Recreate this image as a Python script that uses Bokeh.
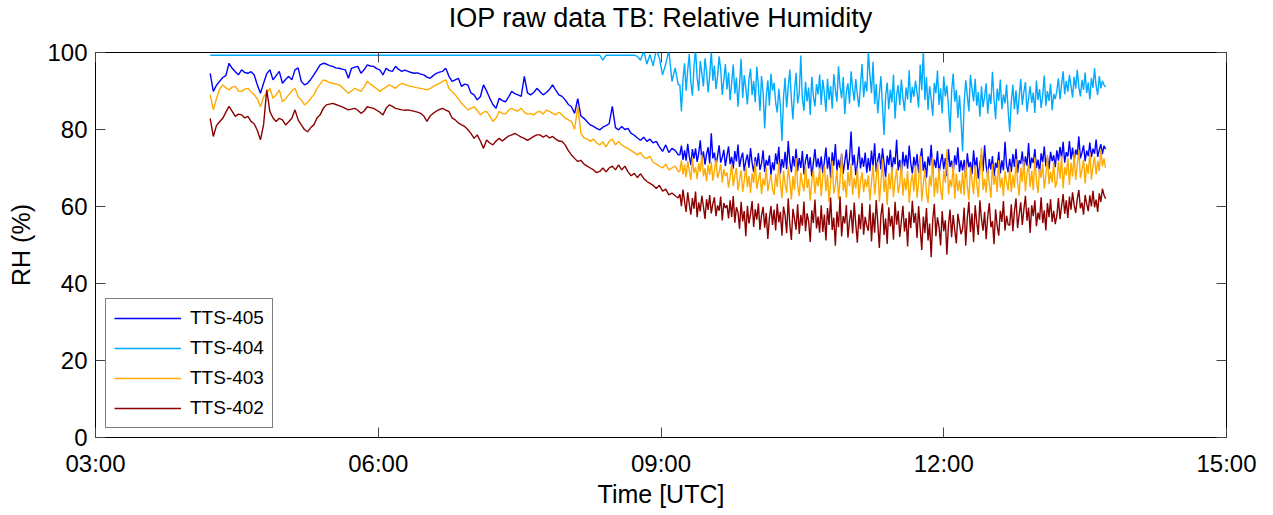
from bokeh.plotting import figure
from bokeh.models import (Range1d, LinearAxis, FixedTicker, Legend, LegendItem,
                          CustomLabelingPolicy)
from bokeh.embed import file_html
from bokeh.resources import INLINE

# ---------------- data ----------------
TITLE = "IOP raw data TB: Relative Humidity"
X_LABEL = "Time [UTC]"
Y_LABEL = "RH (%)"
x_ticks = [3, 6, 9, 12, 15]
x_tick_labels = ["03:00", "06:00", "09:00", "12:00", "15:00"]
y_ticks = [0, 20, 40, 60, 80, 100]

# early part: samples every 2 minutes from 04:13 UTC (150 samples, to 09:11)
early_start_hour = 4 + 13 / 60
early_step_minutes = 2
# late part: samples every minute from 09:12 UTC (272 samples, to 13:43)
late_start_hour = 9 + 12 / 60
late_step_minutes = 1

series_names = ["TTS-405", "TTS-404", "TTS-403", "TTS-402"]
series_colors = ["#0000FF", "#00AAFF", "#FFAA00", "#8B0000"]

rh_405_early = [
    94.6, 89.9, 91.5, 92.5, 93.5, 94.0, 97.2, 95.9, 95.0, 94.2, 95.5, 94.8, 94.6, 95.0, 94.2,
    91.6, 89.4, 92.0, 94.5, 95.5, 92.9, 94.0, 95.1, 92.0, 93.0, 93.8, 92.9, 95.5, 96.0, 92.5,
    91.6, 92.0, 93.0, 94.2, 95.5, 96.8, 97.2, 97.0, 96.6, 96.4, 96.0, 95.9, 95.7, 95.5, 93.3,
    95.9, 96.2, 96.4, 94.6, 95.5, 96.8, 96.5, 96.4, 95.8, 95.5, 94.2, 95.9, 95.3, 95.1, 96.4,
    95.6, 95.1, 95.4, 95.1, 94.8, 94.6, 94.7, 94.4, 94.2, 93.6, 93.3, 94.0, 94.6, 94.9, 95.1,
    95.9, 93.8, 92.5, 92.9, 93.3, 91.2, 91.8, 91.6, 89.5, 89.0, 87.7, 88.5, 91.6, 90.0, 88.1,
    86.5, 85.5, 88.1, 87.5, 87.2, 88.5, 89.9, 89.3, 89.0, 88.6, 93.8, 89.5, 89.0, 89.6, 90.7,
    89.8, 89.0, 89.6, 90.4, 91.6, 90.2, 89.0, 88.6, 87.7, 86.5, 85.9, 84.2, 88.0, 83.5, 82.9,
    82.0, 81.2, 80.8, 80.3, 79.9, 80.6, 81.0, 81.5, 86.0, 80.5, 79.9, 80.8, 80.0, 80.3, 79.0,
    78.5, 77.8, 77.2, 78.0, 76.9, 77.5, 76.5, 76.9, 75.5, 74.3, 76.0, 74.0, 75.1, 74.6, 73.4,
]
rh_405_late = [
    73.4, 75.8, 72.1, 74.6, 71.9, 76.3, 73.0, 70.8, 74.9, 72.4, 75.1, 71.6, 73.8, 77.2, 72.0,
    74.3, 70.9, 73.6, 75.4, 71.2, 79.0, 72.5, 74.0, 70.6, 73.1, 75.9, 71.4, 72.8, 74.7, 70.5,
    73.2, 75.6, 71.0, 72.9, 69.8, 74.4, 71.7, 76.1, 70.3, 72.6, 74.0, 69.2, 71.9, 73.5, 70.1,
    75.2, 71.3, 68.9, 72.8, 70.4, 73.9, 69.5, 71.2, 74.6, 69.0, 72.1, 70.6, 73.3, 68.2, 71.5,
    69.4, 73.8, 71.0, 75.5, 68.6, 72.3, 70.1, 74.2, 69.7, 77.0, 71.8, 68.9, 73.1, 70.4, 75.0,
    69.2, 72.6, 70.0, 74.4, 68.3, 71.9, 73.6, 69.9, 72.8, 67.8, 71.4, 74.9, 70.2, 72.5, 69.6,
    73.0, 68.7, 71.6, 75.3, 69.8, 72.9, 67.4, 74.1, 70.6, 76.2, 69.3, 72.2, 70.0, 73.7, 68.5,
    71.8, 74.8, 69.5, 72.4, 79.5, 70.7, 73.4, 68.1, 71.1, 75.6, 69.9, 72.7, 70.3, 74.0, 68.8,
    72.6, 69.2, 74.5, 70.4, 76.4, 68.9, 72.0, 73.9, 69.6, 75.1, 71.3, 67.7, 73.2, 70.8, 74.7,
    69.0, 72.8, 71.0, 77.3, 69.4, 72.1, 68.3, 74.2, 70.5, 73.4, 69.8, 75.8, 71.2, 68.6, 72.9,
    70.1, 73.6, 68.8, 72.4, 75.2, 69.3, 71.7, 67.5, 73.0, 70.6, 76.0, 69.1, 72.2, 70.0, 74.4,
    68.4, 71.5, 73.7, 69.7, 72.6, 67.9, 74.9, 70.3, 71.9, 68.7, 73.3, 70.8, 75.4, 69.0, 72.0,
    69.3, 72.1, 67.6, 73.8, 70.2, 71.6, 68.4, 74.6, 69.8, 72.8, 67.2, 71.0, 73.5, 69.1, 75.9,
    70.4, 68.1, 72.3, 69.6, 73.1, 67.9, 71.4, 70.0, 74.2, 68.6, 72.0, 69.4, 76.8, 70.7, 68.9,
    72.4, 69.0, 73.6, 70.3, 75.0, 68.7, 72.0, 71.1, 74.3, 69.5, 73.0, 70.6, 76.5, 69.9, 72.7,
    71.3, 74.9, 70.0, 72.2, 68.9, 73.8, 71.5, 75.6, 70.4, 72.9, 69.7, 74.2, 71.8, 73.3, 70.2,
    74.6, 71.9, 75.5, 72.6, 76.8, 71.4, 74.1, 73.0, 77.0, 72.2, 75.3, 71.7, 74.8, 73.4, 78.2,
    72.5, 74.0, 75.9, 71.8, 74.5, 73.1, 76.6, 72.8, 75.0, 73.7, 77.4, 72.9, 74.7, 76.2, 73.6,
    75.8, 74.9,
]

rh_404_early = [
    99.3, 99.3, 99.3, 99.3, 99.3, 99.3, 99.3, 99.3, 99.3, 99.3, 99.3, 99.3, 99.3, 99.3, 99.3,
    99.3, 99.3, 99.3, 99.3, 99.3, 99.3, 99.3, 99.3, 99.3, 99.3, 99.3, 99.3, 99.3, 99.3, 99.3,
    99.3, 99.3, 99.3, 99.3, 99.3, 99.3, 99.3, 99.3, 99.3, 99.3, 99.3, 99.3, 99.3, 99.3, 99.3,
    99.3, 99.3, 99.3, 99.3, 99.3, 99.3, 99.3, 99.3, 99.3, 99.3, 99.3, 99.3, 99.3, 99.3, 99.3,
    99.3, 99.3, 99.3, 99.3, 99.3, 99.3, 99.3, 99.3, 99.3, 99.3, 99.3, 99.3, 99.3, 99.3, 99.3,
    99.3, 99.3, 99.3, 99.3, 99.3, 99.3, 99.3, 99.3, 99.3, 99.3, 99.3, 99.3, 99.3, 99.3, 99.3,
    99.3, 99.3, 99.3, 99.3, 99.3, 99.3, 99.3, 99.3, 99.3, 99.3, 99.3, 99.3, 99.3, 99.3, 99.3,
    99.3, 99.3, 99.3, 99.3, 99.3, 99.3, 99.3, 99.3, 99.3, 99.3, 99.3, 99.3, 99.3, 99.3, 99.3,
    99.3, 99.3, 99.3, 99.3, 99.3, 98.0, 99.3, 99.3, 99.3, 99.3, 99.3, 99.3, 99.3, 99.3, 99.3,
    99.3, 99.0, 98.0, 100.5, 97.0, 99.5, 96.5, 100.8, 98.5, 94.2, 97.0, 100.5, 92.5, 96.0, 91.6,
]
rh_404_late = [
    91.6, 84.7, 93.0, 97.2, 90.1, 95.4, 99.6, 92.3, 88.8, 96.1, 101.0, 93.4, 90.0, 97.8, 94.6,
    91.2, 98.5, 95.0, 89.6, 94.0, 100.5, 92.7, 96.6, 90.5, 93.8, 99.0, 95.7, 89.0, 92.9, 97.0,
    90.4, 94.8, 87.6, 92.2, 96.9, 89.3, 93.5, 85.9, 91.7, 98.4, 88.2, 94.1, 90.8, 86.5, 93.0,
    95.8, 89.0, 92.6, 87.1, 96.3, 91.3, 84.8, 93.9, 89.7, 80.3, 88.6, 92.8, 86.2, 94.5, 90.1,
    92.1, 87.0, 84.4, 90.6, 86.1, 77.0, 88.3, 93.4, 85.7, 91.0, 95.6, 87.9, 82.6, 90.2, 94.7,
    86.8, 89.4, 99.2, 88.0, 84.9, 92.4, 87.3, 90.9, 83.8, 93.7, 88.7, 86.0, 91.8, 89.1, 94.3,
    86.4, 92.9, 89.5, 84.6, 93.2, 87.7, 91.3, 85.4, 94.4, 90.3, 87.2, 96.4, 91.0, 88.1, 93.6,
    84.0, 89.8, 92.0, 86.7, 95.1, 90.6, 87.5, 93.1, 89.0, 85.8, 91.6, 97.0, 88.4, 92.5, 89.9,
    100.5, 94.0, 89.4, 97.6, 86.6, 91.8, 84.2, 89.2, 93.9, 86.0, 78.6, 88.7, 92.2, 85.2, 90.4,
    87.0, 94.3, 82.8, 89.0, 91.5, 86.3, 93.0, 88.2, 84.8, 90.9, 87.8, 95.4, 86.9, 91.1, 88.5,
    92.7, 89.6, 85.7, 96.8, 90.2, 100.6, 87.7, 93.6, 85.1, 91.2, 88.0, 83.6, 92.1, 89.4, 95.3,
    86.4, 90.7, 84.2, 93.8, 88.6, 91.4, 86.0, 79.2, 89.8, 94.5, 87.2, 90.3, 83.0, 88.9, 82.4,
    74.3, 86.9, 92.8, 88.8, 84.7, 94.2, 90.5, 87.3, 93.2, 86.2, 89.7, 83.3, 91.2, 85.8, 88.6,
    92.0, 84.1, 89.3, 86.6, 95.0, 88.0, 82.7, 90.6, 87.4, 93.0, 85.3, 89.1, 86.8, 91.7, 84.9,
    79.4, 87.2, 91.6, 85.3, 90.2, 83.9, 88.3, 93.1, 86.4, 89.8, 92.3, 84.6, 88.0, 91.2, 86.9,
    89.6, 84.3, 92.7, 87.7, 90.5, 85.6, 88.9, 94.0, 86.2, 90.0, 87.4, 91.9, 85.0, 89.2, 87.9,
    90.1, 93.3, 87.9, 91.7, 95.1, 89.2, 92.6, 89.8, 94.2, 91.4, 88.3, 93.7, 90.6, 95.5, 91.0,
    88.6, 92.9, 90.3, 94.8, 89.5, 92.2, 87.8, 93.4, 90.8, 95.9, 91.3, 89.0, 93.9, 90.7, 92.6,
    91.6, 91.0,
]

rh_403_early = [
    89.0, 85.1, 88.0, 90.5, 91.6, 90.8, 90.3, 91.0, 91.2, 90.0, 89.9, 90.5, 90.7, 89.8, 89.0,
    88.0, 85.9, 88.5, 89.5, 90.7, 88.1, 89.0, 90.3, 87.2, 88.0, 89.0, 90.0, 90.7, 88.5, 87.7,
    86.4, 87.0, 88.1, 89.0, 90.7, 91.8, 92.9, 92.6, 92.2, 92.0, 91.8, 91.6, 91.0, 90.2, 89.4,
    90.0, 90.7, 90.3, 89.9, 91.0, 92.5, 91.8, 91.2, 90.6, 89.9, 90.5, 91.0, 91.6, 91.2, 90.7,
    91.5, 92.0, 91.7, 91.4, 91.2, 91.0, 90.8, 90.7, 90.5, 90.3, 90.6, 91.2, 91.6, 92.0, 92.5,
    92.9, 90.7, 89.8, 89.0, 88.0, 86.8, 86.0, 85.1, 85.5, 85.9, 85.0, 83.8, 84.5, 84.7, 83.5,
    82.1, 83.0, 84.7, 84.2, 84.0, 85.0, 85.5, 85.0, 84.8, 85.5, 84.5, 84.0, 84.2, 83.8, 84.5,
    84.7, 84.0, 85.0, 84.7, 84.2, 83.8, 84.5, 83.8, 83.0, 82.5, 82.1, 80.0, 86.0, 79.0, 77.8,
    77.5, 76.9, 77.5, 76.5, 76.0, 76.8, 75.5, 76.9, 77.5, 76.0, 76.9, 76.0, 75.5, 75.1, 74.5,
    74.0, 73.4, 74.0, 72.8, 72.5, 73.0, 71.5, 71.0, 70.5, 70.0, 71.0, 69.5, 70.0, 70.5, 69.1,
]
rh_403_late = [
    69.1, 72.0, 68.3, 70.9, 67.6, 71.8, 69.4, 66.9, 72.6, 68.7, 70.2, 67.1, 71.3, 69.0, 73.5,
    67.8, 69.9, 66.5, 70.8, 68.2, 71.6, 66.7, 69.3, 72.1, 67.4, 68.9, 71.0, 66.2, 69.7, 67.9,
    68.8, 64.9, 67.7, 71.2, 65.3, 68.1, 70.0, 64.2, 67.0, 69.4, 63.8, 66.6, 70.5, 65.0, 67.9,
    63.5, 68.6, 66.1, 71.8, 64.6, 66.9, 69.0, 63.2, 67.3, 65.4, 70.2, 64.0, 66.4, 68.3, 64.4,
    63.0, 68.4, 65.1, 71.5, 66.2, 62.1, 69.3, 65.8, 63.6, 70.4, 66.7, 61.8, 67.9, 64.3, 72.6,
    65.5, 62.7, 68.8, 66.0, 63.9, 70.9, 64.8, 67.2, 61.5, 66.4, 69.7, 63.3, 67.6, 65.2, 70.1,
    62.6, 67.8, 70.6, 64.0, 68.2, 61.2, 66.1, 71.9, 63.4, 65.6, 69.5, 61.9, 67.0, 73.8, 64.1,
    66.8, 62.3, 69.1, 65.3, 71.2, 63.0, 67.4, 64.7, 70.0, 62.0, 66.5, 68.9, 63.7, 67.1, 65.0,
    68.1, 61.6, 66.3, 70.8, 63.1, 67.5, 71.6, 61.3, 65.9, 72.4, 63.8, 67.7, 60.4, 68.6, 64.5,
    70.3, 62.4, 66.9, 69.8, 63.5, 65.7, 71.4, 62.8, 67.3, 64.2, 69.2, 61.0, 66.0, 68.4, 63.9,
    70.7, 62.2, 66.6, 73.2, 61.4, 65.8, 69.6, 63.7, 60.9, 68.0, 65.2, 72.7, 62.5, 67.6, 63.4,
    70.0, 64.6, 61.7, 69.4, 66.2, 74.8, 63.1, 67.0, 65.0, 71.3, 62.0, 68.5, 64.0, 66.8, 63.3,
    68.9, 62.9, 71.7, 65.4, 61.6, 70.2, 66.7, 63.2, 70.8, 65.9, 62.4, 68.7, 75.3, 64.3, 67.2,
    63.6, 69.9, 66.0, 62.2, 71.1, 65.6, 68.3, 63.8, 72.0, 64.9, 67.5, 62.6, 69.2, 66.3, 64.1,
    70.6, 63.7, 68.2, 64.8, 72.3, 66.1, 62.8, 70.1, 66.4, 71.8, 63.9, 68.6, 70.9, 65.1, 69.3,
    64.2, 72.8, 66.9, 63.5, 69.8, 67.4, 71.2, 64.6, 68.0, 73.4, 65.8, 69.0, 66.2, 71.5, 64.9,
    66.3, 71.7, 67.2, 73.1, 64.7, 70.2, 68.1, 72.6, 65.6, 71.4, 67.8, 73.7, 66.9, 70.8, 74.6,
    67.4, 69.6, 72.2, 66.0, 71.0, 68.5, 74.1, 67.0, 70.5, 72.9, 68.3, 71.9, 69.2, 74.8, 70.4,
    72.5, 70.0,
]

rh_402_early = [
    82.9, 78.2, 81.0, 82.0, 82.9, 84.5, 86.0, 84.7, 83.4, 84.0, 83.8, 83.0, 83.4, 82.1, 81.5,
    79.8, 77.3, 81.2, 90.3, 84.7, 83.0, 82.1, 82.9, 82.5, 81.2, 82.0, 82.9, 85.1, 82.5, 81.2,
    80.0, 79.4, 80.5, 81.2, 83.0, 83.8, 85.5, 86.4, 86.6, 86.8, 86.5, 86.2, 85.9, 85.5, 85.1,
    85.3, 85.5, 85.0, 84.2, 84.8, 85.9, 85.7, 85.5, 85.0, 84.5, 83.8, 85.5, 86.4, 86.0, 85.5,
    85.3, 85.1, 85.0, 85.1, 84.9, 84.7, 84.5, 84.2, 83.5, 82.1, 83.5, 84.2, 84.8, 85.2, 85.5,
    85.0, 84.7, 83.0, 82.5, 81.7, 81.2, 80.8, 80.0, 79.0, 77.7, 78.6, 77.0, 75.1, 77.3, 76.5,
    76.0, 77.0, 77.7, 77.0, 77.7, 78.3, 78.6, 79.0, 78.5, 78.0, 77.7, 77.2, 77.7, 78.2, 78.6,
    78.6, 78.0, 78.5, 77.8, 78.2, 77.5, 77.0, 76.9, 76.0, 74.5, 73.4, 72.5, 71.7, 72.0, 71.0,
    70.5, 70.0, 69.5, 68.8, 69.1, 70.0, 69.0, 70.0, 70.5, 69.5, 70.8, 69.5, 70.5, 69.0, 68.0,
    68.6, 67.5, 68.5, 67.3, 66.5, 66.0, 65.5, 64.7, 65.5, 64.0, 64.5, 63.0, 63.5, 62.8, 62.2,
]
rh_402_late = [
    63.2, 60.1, 64.4, 61.3, 58.6, 63.7, 60.6, 57.9, 62.2, 59.4, 63.9, 57.2, 61.1, 58.7, 62.8,
    60.0, 56.8, 61.9, 59.1, 63.0, 58.2, 60.7, 62.4, 57.5, 60.3, 58.9, 62.6, 56.4, 60.9, 59.6,
    60.4, 56.9, 61.6, 57.3, 62.7, 55.8, 59.8, 58.5, 54.2, 61.2, 56.1, 58.8, 52.3, 60.2, 55.6,
    58.1, 61.4, 54.7, 59.3, 56.6, 60.8, 53.9, 57.7, 59.9, 54.5, 58.3, 51.6, 57.0, 60.1, 55.2,
    59.2, 53.8, 60.7, 55.9, 58.6, 52.4, 60.0, 57.6, 53.1, 62.1, 55.4, 51.3, 59.4, 56.7, 54.0,
    60.6, 52.9, 57.8, 55.0, 61.3, 53.6, 58.2, 56.1, 50.8, 59.0, 55.7, 61.8, 54.3, 57.4, 53.2,
    60.3, 53.4, 57.9, 51.2, 59.6, 55.2, 62.3, 53.9, 57.1, 49.8, 58.7, 54.6, 62.6, 52.2, 57.5,
    55.6, 60.4, 51.9, 56.3, 59.1, 53.0, 61.0, 55.4, 50.6, 58.0, 54.1, 60.9, 52.7, 57.3, 55.0,
    53.7, 60.6, 50.9, 58.4, 53.2, 61.7, 55.8, 49.2, 57.7, 60.8, 52.6, 56.9, 50.3, 59.8, 54.8,
    57.6, 51.4, 61.2, 55.3, 58.9, 52.1, 56.2, 60.2, 53.5, 57.0, 49.6, 58.6, 54.4, 61.5, 55.7,
    58.3, 51.8, 60.1, 54.3, 48.7, 57.4, 53.1, 59.6, 51.2, 55.6, 46.8, 56.7, 60.7, 52.3, 57.2,
    54.7, 49.9, 58.8, 53.6, 56.4, 47.5, 55.1, 59.2, 52.0, 57.8, 53.9, 50.4, 58.1, 55.5, 52.8,
    54.2, 59.7, 49.8, 57.1, 61.2, 53.3, 58.2, 50.7, 60.3, 55.9, 52.6, 61.6, 56.8, 53.7, 58.6,
    51.5, 57.4, 60.9, 54.6, 56.2, 50.2, 59.3, 55.0, 52.4, 58.9, 56.0, 61.4, 53.8, 57.6, 55.3,
    55.1, 60.6, 53.6, 58.7, 62.1, 54.4, 57.9, 61.1, 55.2, 59.2, 62.8, 56.3, 59.7, 53.1, 60.3,
    57.5, 61.6, 54.9, 58.4, 56.6, 62.4, 55.7, 59.0, 53.8, 60.9, 57.2, 61.9, 56.0, 58.9, 55.4,
    57.6, 62.2, 56.7, 60.1, 63.2, 58.1, 61.6, 57.0, 62.6, 59.2, 63.7, 60.4, 58.3, 62.0, 64.3,
    59.5, 61.0, 57.9, 63.0, 60.7, 58.8, 62.9, 60.0, 64.1, 59.8, 61.8, 58.6, 63.4, 61.2, 64.6,
    63.0, 62.0,
]

series_early = [rh_405_early, rh_404_early, rh_403_early, rh_402_early]
series_late = [rh_405_late, rh_404_late, rh_403_late, rh_402_late]

# ---------------- figure ----------------
FONT = "Liberation Sans"

p = figure(
    frame_width=1131, frame_height=385,
    x_range=Range1d(3, 15), y_range=Range1d(0, 100),
    output_backend="svg", toolbar_location=None,
    min_border_left=87, min_border_top=43, min_border_right=30, min_border_bottom=60,
    background_fill_color="white", border_fill_color="white",
    margin=(0, 0, 0, 4),
)

p.title.text = TITLE
p.title.align = "center"
p.title.text_font = FONT
p.title.text_font_size = "27px"
p.title.text_font_style = "normal"
p.title.text_color = "black"
p.title.standoff = 0

p.xgrid.visible = False
p.ygrid.visible = False
p.outline_line_color = "black"
p.outline_line_width = 1

bottom_axis = p.below[0]
left_axis = p.left[0]

renderers = []
for name, color, early, late in zip(series_names, series_colors, series_early, series_late):
    times = ([early_start_hour + i * early_step_minutes / 60 for i in range(len(early))]
             + [late_start_hour + j * late_step_minutes / 60 for j in range(len(late))])
    r = p.line(times, early + late, line_color=color, line_width=1.4)
    renderers.append((name, r))

top_axis = LinearAxis()
right_axis = LinearAxis()
p.add_layout(top_axis, "above")
p.add_layout(right_axis, "right")

for ax in [bottom_axis, top_axis]:
    ax.ticker = FixedTicker(ticks=x_ticks)
for ax in [left_axis, right_axis]:
    ax.ticker = FixedTicker(ticks=y_ticks)

bottom_axis.major_label_overrides = {t: lab for t, lab in zip(x_ticks, x_tick_labels)}

for ax in [bottom_axis, left_axis, top_axis, right_axis]:
    ax.major_tick_in = 10
    ax.major_tick_out = 0
    ax.minor_tick_in = 0
    ax.minor_tick_out = 0
    ax.major_tick_line_color = "#444444"
    ax.axis_line_color = None
    ax.major_label_text_font = FONT
    ax.major_label_text_font_size = "24px"
    ax.major_label_text_color = "black"

# box ticks on top / right carry no labels
no_labels = CustomLabelingPolicy(code="return new Set()")
for ax in [top_axis, right_axis]:
    ax.major_label_policy = no_labels
    ax.major_label_standoff = 0

bottom_axis.major_label_standoff = 12
left_axis.major_label_standoff = 8

bottom_axis.axis_label = X_LABEL
left_axis.axis_label = Y_LABEL
for ax in [bottom_axis, left_axis]:
    ax.axis_label_text_font = FONT
    ax.axis_label_text_font_size = "25px"
    ax.axis_label_text_font_style = "normal"
    ax.axis_label_text_color = "black"
bottom_axis.axis_label_standoff = 0
left_axis.axis_label_standoff = 9

legend = Legend(
    items=[LegendItem(label=n, renderers=[r]) for n, r in renderers],
    location=(10, 9),
    label_text_font=FONT, label_text_font_size="19px", label_text_color="black",
    glyph_width=67, glyph_height=20, label_standoff=9, spacing=8, padding=8,
    margin=0, border_line_color="black", border_line_width=1,
    background_fill_color="white", background_fill_alpha=1.0,
)
p.add_layout(legend, "center")

open("out.html", "w").write(file_html(p, INLINE))
